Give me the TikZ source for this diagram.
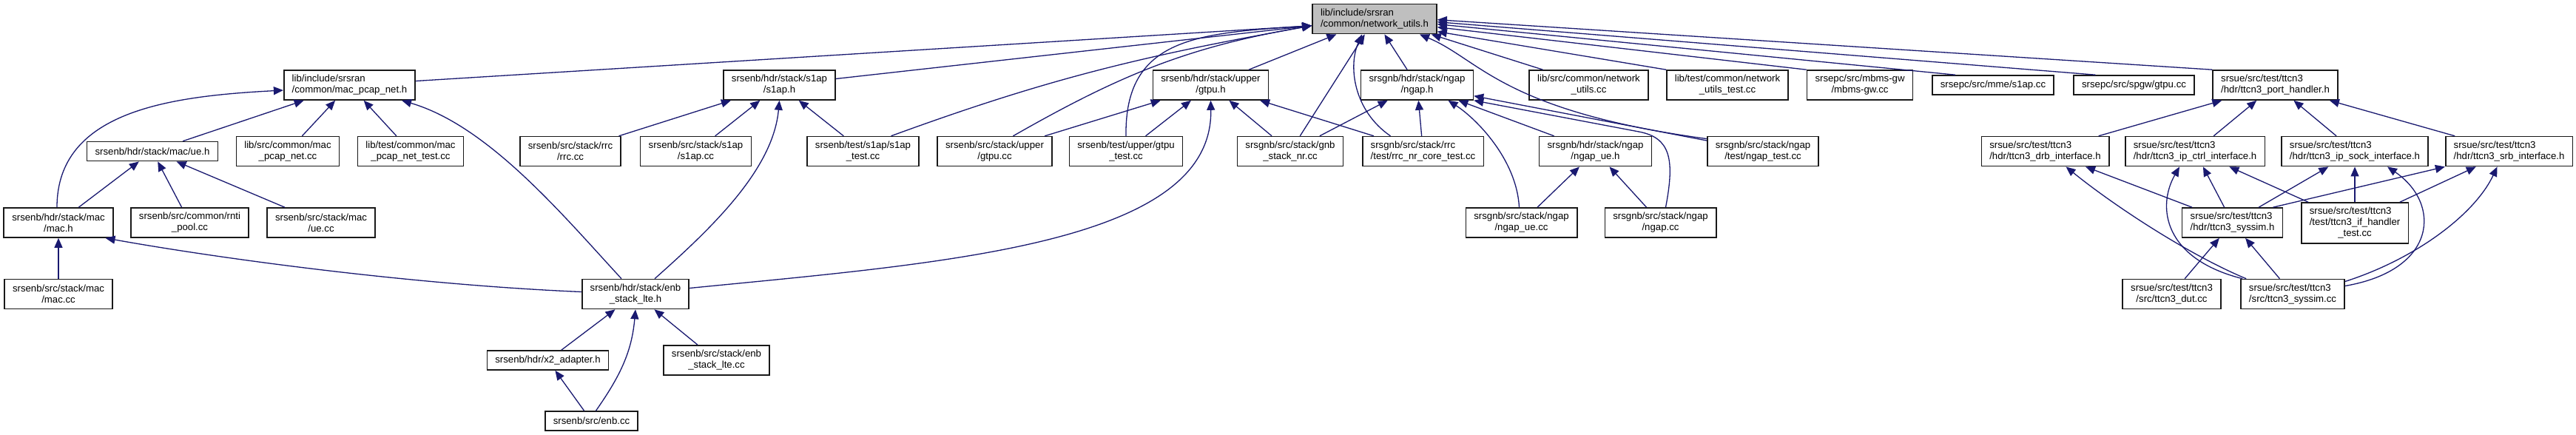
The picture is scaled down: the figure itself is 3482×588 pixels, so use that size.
\documentclass[tikz,border=0pt]{standalone}
\usepackage{fontspec}
\setmainfont{Liberation Sans}
\usetikzlibrary{arrows.meta}
\definecolor{navyline}{HTML}{191970}
\definecolor{rootgray}{HTML}{BFBFBF}

\begin{document}
\begin{tikzpicture}[
x=1pt, y=1pt,
base/.style={
rectangle,
draw=black!90,
line width=1.6pt,
fill=white,
font=\fontsize{13.2}{15}\selectfont,
inner xsep=11pt,
inner ysep=5pt,
minimum height=40pt
},
box/.style={base, align=center},
leftbox/.style={base, align=left},
single/.style={base, minimum height=26pt},
rootbox/.style={leftbox, fill=rootgray},
incl/.style={<-, >={Triangle[length=13pt,width=11pt]}, draw=navyline, line width=1.3pt}
]

\path[use as bounding box, fill=white] (0,0) rectangle (3482,-588);

\node[rootbox] (netutils) at (1858,-25.7) {lib/include/srsran\\/common/network\_utils.h};

\node[leftbox] (pcapnet) at (472.5,-115) {lib/include/srsran\\/common/mac\_pcap\_net.h};
\node[box] (s1aph) at (1053.5,-115) {srsenb/hdr/stack/s1ap\\/s1ap.h};
\node[box] (gtpuh) at (1636.5,-115) {srsenb/hdr/stack/upper\\/gtpu.h};
\node[box] (ngaph) at (1915.5,-115) {srsgnb/hdr/stack/ngap\\/ngap.h};
\node[box] (netutilscc) at (2147.5,-115) {lib/src/common/network\\\_utils.cc};
\node[box] (netutilstest) at (2335,-115) {lib/test/common/network\\\_utils\_test.cc};
\node[box] (mbmsgw) at (2514,-115) {srsepc/src/mbms-gw\\/mbms-gw.cc};
\node[single] (mmes1ap) at (2694,-115) {srsepc/src/mme/s1ap.cc};
\node[single] (spgwgtpu) at (2884.5,-115) {srsepc/src/spgw/gtpu.cc};
\node[leftbox] (porthandler) at (3075.5,-115) {srsue/src/test/ttcn3\\/hdr/ttcn3\_port\_handler.h};

\node[single] (macueh) at (206,-204.6) {srsenb/hdr/stack/mac/ue.h};
\node[box] (pcapnetcc) at (389,-204.6) {lib/src/common/mac\\\_pcap\_net.cc};
\node[box] (pcapnettest) at (555,-204.6) {lib/test/common/mac\\\_pcap\_net\_test.cc};
\node[box] (rrccc) at (771,-204.6) {srsenb/src/stack/rrc\\/rrc.cc};
\node[box] (s1apcc) at (940.5,-204.6) {srsenb/src/stack/s1ap\\/s1ap.cc};
\node[box] (s1aptest) at (1166.5,-204.6) {srsenb/test/s1ap/s1ap\\\_test.cc};
\node[box] (gtpucc) at (1344.5,-204.6) {srsenb/src/stack/upper\\/gtpu.cc};
\node[box] (gtputest) at (1522,-204.6) {srsenb/test/upper/gtpu\\\_test.cc};
\node[box] (gnbstack) at (1744,-204.6) {srsgnb/src/stack/gnb\\\_stack\_nr.cc};
\node[leftbox] (rrcnrtest) at (1923.5,-204.6) {srsgnb/src/stack/rrc\\/test/rrc\_nr\_core\_test.cc};
\node[box] (ngapueh) at (2156.5,-204.6) {srsgnb/hdr/stack/ngap\\/ngap\_ue.h};
\node[box] (ngaptest) at (2383,-204.6) {srsgnb/src/stack/ngap\\/test/ngap\_test.cc};
\node[leftbox] (drbif) at (2764.5,-204.6) {srsue/src/test/ttcn3\\/hdr/ttcn3\_drb\_interface.h};
\node[leftbox] (ipctrlif) at (2967,-204.6) {srsue/src/test/ttcn3\\/hdr/ttcn3\_ip\_ctrl\_interface.h};
\node[leftbox] (ipsockif) at (3183,-204.6) {srsue/src/test/ttcn3\\/hdr/ttcn3\_ip\_sock\_interface.h};
\node[leftbox] (srbif) at (3391.5,-204.6) {srsue/src/test/ttcn3\\/hdr/ttcn3\_srb\_interface.h};

\node[box] (mach) at (79,-301) {srsenb/hdr/stack/mac\\/mac.h};
\node[box] (rntipool) at (256.5,-301) {srsenb/src/common/rnti\\\_pool.cc};
\node[box] (macuecc) at (434,-301) {srsenb/src/stack/mac\\/ue.cc};
\node[box] (ngapuecc) at (2056.5,-301) {srsgnb/src/stack/ngap\\/ngap\_ue.cc};
\node[box] (ngapcc) at (2244.5,-301) {srsgnb/src/stack/ngap\\/ngap.cc};
\node[leftbox] (syssimh) at (3017.5,-301) {srsue/src/test/ttcn3\\/hdr/ttcn3\_syssim.h};
\node[base, minimum height=55pt] (ifhandler) at (3183,-301.5)
{\begin{tabular}{@{}l@{}}srsue/src/test/ttcn3\\/test/ttcn3\_if\_handler\\\multicolumn{1}{@{}c@{}}{\_test.cc}\end{tabular}};

\node[box] (maccc) at (79,-397.5) {srsenb/src/stack/mac\\/mac.cc};
\node[box] (enbstackh) at (859,-397.5) {srsenb/hdr/stack/enb\\\_stack\_lte.h};
\node[box] (ttcndut) at (2935.5,-397.5) {srsue/src/test/ttcn3\\/src/ttcn3\_dut.cc};
\node[leftbox] (syssimcc) at (3099,-397.5) {srsue/src/test/ttcn3\\/src/ttcn3\_syssim.cc};

\node[single] (x2adapter) at (740.5,-487) {srsenb/hdr/x2\_adapter.h};
\node[box] (enbstackcc) at (968.5,-487) {srsenb/src/stack/enb\\\_stack\_lte.cc};

\node[single] (enbcc) at (799.5,-569) {srsenb/src/enb.cc};

\draw[incl] ([yshift=-9pt]netutils.west) -- (pcapnet);
\draw[incl] ([yshift=-9pt]netutils.west) -- (s1aph);
\draw[incl] ([yshift=-9pt]netutils.west) .. controls (1548,-75) and (1420,-105) .. ([xshift=38pt]s1aptest.north);
\draw[incl] ([yshift=-9pt]netutils.west) .. controls (1608,-63) and (1516,-100) .. ([xshift=25pt]gtpucc.north);
\draw[incl] ([yshift=-9pt]netutils.west) .. controls (1620,-45) and (1520,-50) .. (gtputest.north);
\draw[incl] (netutils) -- (gtpuh);
\draw[incl] (netutils) -- (gnbstack);
\draw[incl] (netutils) -- (ngaph);
\draw[incl] ([xshift=-17pt]netutils.south) .. controls (1822,-90) and (1830,-150) .. ([xshift=-44pt]rrcnrtest.north);
\draw[incl] ([xshift=61pt]netutils.south) .. controls (2000,-80) and (2030,-150) .. ([yshift=17pt]ngaptest.west);
\draw[incl] ([xshift=-8pt]netutils.south east) -- ([xshift=-62pt]netutilscc.north);
\draw[incl] ([yshift=-17pt]netutils.east) -- (netutilstest.north west);
\draw[incl] ([yshift=-11pt]netutils.east) -- (mbmsgw.north west);
\draw[incl] ([yshift=-7pt]netutils.east) -- ([xshift=-51pt]mmes1ap.north);
\draw[incl] ([yshift=-4pt]netutils.east) -- ([xshift=-52pt]spgwgtpu.north);
\draw[incl] ([yshift=-1pt]netutils.east) -- (porthandler.north west);

\draw[incl] (pcapnet) -- (macueh);
\draw[incl] (pcapnet) -- (pcapnetcc);
\draw[incl] (pcapnet) -- (pcapnettest);
\draw[incl] ([yshift=-7pt]pcapnet.west) .. controls (230,-130) and (77,-150) .. ([xshift=-2pt]mach.north);
\draw[incl] ([xshift=-19pt]pcapnet.south east) .. controls (660,-170) and (760,-290) .. ([xshift=-19pt]enbstackh.north);

\draw[incl] (macueh) -- (mach);
\draw[incl] (macueh) -- (rntipool);
\draw[incl] (macueh) -- (macuecc);
\draw[incl] (mach) -- (maccc);
\draw[incl] ([xshift=-11pt]mach.south east) .. controls (300,-350) and (560,-385) .. ([yshift=3pt]enbstackh.west);

\draw[incl] (s1aph) -- (rrccc);
\draw[incl] (s1aph) -- (s1apcc);
\draw[incl] (s1aph) -- (s1aptest);
\draw[incl] (s1aph.south) .. controls (1045,-230) and (960,-310) .. ([xshift=26pt]enbstackh.north);

\draw[incl] (gtpuh) -- (gtpucc);
\draw[incl] (gtpuh) -- (gtputest);
\draw[incl] (gtpuh) -- (gnbstack);
\draw[incl] (gtpuh) -- (rrcnrtest);
\draw[incl] (gtpuh.south) .. controls (1640,-330) and (1280,-355) .. ([yshift=8pt]enbstackh.east);

\draw[incl] (ngaph) -- (gnbstack);
\draw[incl] (ngaph) -- (rrcnrtest);
\draw[incl] (ngaph) -- (ngapueh);
\draw[incl] (ngaph) -- (ngaptest);
\draw[incl] ([xshift=42pt]ngaph.south) .. controls (1995,-160) and (2050,-215) .. ([xshift=-3pt]ngapuecc.north);
\draw[incl] (ngaph.south east) -- (2215,-178) .. controls (2258,-186) and (2264,-215) .. ([xshift=7pt]ngapcc.north);
\draw[incl] (ngapueh) -- (ngapuecc);
\draw[incl] (ngapueh) -- (ngapcc);

\draw[incl] (enbstackh) -- (x2adapter);
\draw[incl] (enbstackh) -- (enbstackcc);
\draw[incl] (enbstackh.south) to[out=-95,in=55] ([xshift=6pt]enbcc.north);
\draw[incl] (x2adapter) -- (enbcc);

\draw[incl] (porthandler) -- (drbif);
\draw[incl] (porthandler) -- (ipctrlif);
\draw[incl] (porthandler) -- (ipsockif);
\draw[incl] (porthandler) -- (srbif);
\draw[incl] (drbif) -- (syssimh);
\draw[incl] ([xshift=28pt]drbif.south) .. controls (2860,-280) and (2960,-345) .. ([xshift=8pt]syssimcc.north west);
\draw[incl] (ipctrlif) -- (syssimh);
\draw[incl] (ipctrlif) -- (ifhandler);
\draw[incl] ([xshift=-21pt]ipctrlif.south) .. controls (2915,-280) and (2925,-350) .. ([xshift=3pt]syssimcc.north west);
\draw[incl] (ipsockif) -- (syssimh);
\draw[incl] (ipsockif) -- (ifhandler);
\draw[incl] ([xshift=44pt]ipsockif.south) .. controls (3300,-275) and (3295,-365) .. ([yshift=11pt]syssimcc.east);
\draw[incl] (srbif.south west) -- ([xshift=55pt]syssimh.north);
\draw[incl] (srbif) -- (ifhandler);
\draw[incl] ([xshift=-16pt]srbif.south) .. controls (3345,-290) and (3265,-350) .. ([yshift=17pt]syssimcc.east);
\draw[incl] (syssimh) -- (ttcndut);
\draw[incl] (syssimh) -- (syssimcc);

\end{tikzpicture}
\end{document}
